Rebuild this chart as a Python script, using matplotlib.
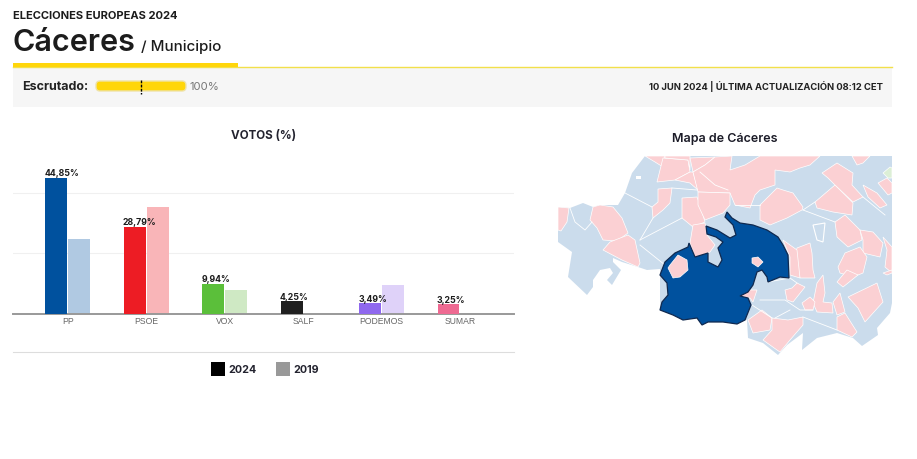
import numpy as np
import matplotlib.pyplot as plt
from matplotlib.patches import Polygon, Rectangle, FancyBboxPatch

plt.rcParams['font.family'] = ['Inter', 'DejaVu Sans']

W = 917
H = 460

# bar data
partidos = ['PP', 'PSOE', 'VOX', 'SALF', 'PODEMOS', 'SUMAR']
votos_2024 = [44.85, 28.79, 9.94, 4.25, 3.49, 3.25]
votos_2019 = [24.6, 35.2, 8.0, 0, 9.5, 0]
etiquetas = ['44,85%', '28,79%', '9,94%', '4,25%', '3,49%', '3,25%']
colores_2024 = ['#00519e', '#ed1c24', '#5bbf3a', '#1f1f1f', '#8f68ee', '#ee6a92']
colores_2019 = ['#b0c9e2', '#f9b5b8', '#cfe9c4', '#d0d0d0', '#dfd2f9', '#f9c9d8']

# map outlines in pixels
mapa_base = [(645,156),(632,173),(625,193),(618,205),(600,205),(593,207),(583,203),(570,208),(558,207),
             (558,242),(572,252),(568,277),(587,295),(593,287),(593,280),(600,270),(610,268),(613,273),
             (607,280),(612,285),(621,270),(613,262),(613,258),(622,262),(638,267),(647,270),(660,269),
             (660,310),(745,320),(747,320),(748,338),(763,343),(778,355),(787,345),(803,333),(802,350),
             (817,338),(837,333),(853,338),(862,346),(878,335),(877,328),(890,313),(892,303),(892,156)]

mapa_rosa = [
    [(558,207),(569,208),(567,222),(561,231),(558,230)],
    [(600,205),(613,207),(622,218),(628,233),(617,241),(603,240),(597,228),(590,220),(593,207)],
    [(628,235),(635,240),(640,263),(638,267),(622,260),(603,250),(610,242)],
    [(645,156),(665,156),(663,167),(655,162)],
    [(663,158),(688,160),(690,172),(675,180),(657,182),(660,170)],
    [(665,156),(690,156),(690,170),(688,160),(665,158)],
    [(675,180),(690,172),(693,172),(698,190),(690,183)],
    [(693,172),(690,158),(715,157),(705,165)],
    [(658,189),(672,188),(670,203),(663,210),(653,218),(652,207),(658,202)],
    [(682,198),(697,197),(700,205),(705,222),(693,227),(682,218)],
    [(698,192),(693,172),(705,165),(715,157),(732,156),(730,170),(745,165),(760,156),(820,156),(810,165),
     (800,168),(790,172),(775,170),(775,185),(760,190),(755,195),(750,208),(735,205),(730,193)],
    [(698,192),(730,193),(730,205),(723,213),(705,220),(698,205)],
    [(693,225),(705,223),(707,235),(715,245),(710,252),(703,255),(695,257),(690,243)],
    [(760,205),(777,188),(783,190),(793,193),(803,207),(802,210),(787,218),(770,225),(760,220)],
    [(815,202),(835,185),(853,203),(852,215),(833,212),(817,208)],
    [(822,173),(837,163),(853,173),(852,185),(863,197),(853,202),(835,185),(828,178)],
    [(852,156),(870,156),(863,163),(857,165)],
    [(863,185),(877,193),(887,205),(880,208),(868,197)],
    [(878,183),(887,178),(892,183),(892,193),(888,195)],
    [(835,222),(845,215),(860,230),(862,240),(848,247),(837,237)],
    [(860,230),(873,232),(883,243),(880,257),(863,253),(863,240)],
    [(883,237),(892,247),(892,273),(885,267),(887,250)],
    [(838,267),(845,253),(860,247),(867,257),(863,273),(853,277),(840,273)],
    [(797,248),(810,243),(812,253),(813,270),(815,278),(800,278),(795,257)],
    [(783,240),(797,250),(800,278),(790,275),(790,257)],
    [(848,297),(877,283),(883,302),(865,322),(858,308)],
    [(837,317),(845,313),(857,332),(852,337),(837,330)],
    [(833,302),(840,293),(845,312),(837,315)],
    [(813,303),(817,283),(823,275),(825,293),(823,302),(832,303),(833,313),(817,312)],
    [(802,303),(810,297),(815,302),(813,310),(805,310)],
    [(785,290),(792,288),(797,283),(805,287),(797,297),(793,302),(787,300)],
    [(837,282),(847,270),(858,275),(843,287)],
    [(883,273),(892,270),(892,273),(887,275)],
    [(748,320),(762,310),(772,318),(770,330),(753,333)],
    [(772,318),(788,320),(803,317),(803,325),(790,340),(780,352),(777,350),(763,340),(772,330)],
    [(740,296),(748,290),(757,290),(753,302),(750,298)],
]

mapa_verde = [(883,173),(890,167),(892,168),(892,178),(888,178)]
mapa_isla = [(813,225),(825,223),(823,242),(817,240)]
mapa_hueco = [(636,176),(641,176),(641,179),(636,179)]

mapa_lineas = [
    [(570,208),(575,222),(585,230),(592,222)],
    [(625,193),(652,207)],
    [(640,240),(653,218)],
    [(640,240),(682,218)],
    [(640,245),(665,265)],
    [(672,188),(697,190)],
    [(700,172),(715,185),(728,190)],
    [(735,205),(760,205)],
    [(803,210),(815,202)],
    [(803,210),(835,222)],
    [(863,197),(885,215)],
    [(768,282),(790,278),(797,283)],
    [(760,300),(785,300),(800,310),(813,310)],
    [(775,318),(790,310)],
    [(803,317),(837,330)],
    [(752,305),(772,318)],
]

caceres = [(727,212),(732,218),(740,223),(753,225),(767,230),(778,237),(783,245),(788,255),(789,278),
           (780,277),(768,282),(767,277),(762,270),(757,272),(753,285),(748,292),(740,296),(748,298),
           (751,305),(745,320),(737,324),(723,322),(708,322),(702,325),(697,318),(683,320),(673,315),
           (660,310),(662,302),(668,295),(667,283),(660,275),(665,262),(675,253),(688,247),(689,243),
           (695,257),(708,253),(708,262),(718,267),(722,260),(718,248),(723,242),(716,237),(707,234),
           (706,226),(717,230),(730,238),(736,235),(733,225),(725,217)]
caceres_rosa = [
    [(670,265),(678,255),(687,260),(688,270),(680,277),(673,278),(668,268)],
    [(752,258),(758,257),(763,262),(758,267),(752,263)],
]

fig = plt.figure(figsize=(W / 100, H / 100), dpi=100)

# overlay in pixel coordinates for the page furniture and the map
bg = fig.add_axes([0, 0, 1, 1])
bg.set_xlim(0, W)
bg.set_ylim(H - 1, -1)
bg.axis('off')

bg.add_patch(Rectangle((13, 67), 879, 40, color='#f6f6f6', lw=0))
bg.plot([13, 892], [66.5, 66.5], color='#f2e04a', lw=1, zorder=3)
bg.add_patch(Rectangle((13, 63), 225, 3.5, color='#ffd60a', lw=0, zorder=4))

bg.text(13, 15, 'ELECCIONES EUROPEAS 2024', fontsize=8, fontweight='bold', color='#1c1c1c', va='center')
bg.text(13, 50, 'Cáceres', fontsize=22, fontweight='semibold', color='#1c1c1c', va='baseline')
bg.text(141, 50, '/ Municipio', fontsize=10.9, fontweight='medium', color='#1c1c1c', va='baseline')

bg.text(22, 86, 'Escrutado:', fontsize=9, fontweight='bold', color='#222222', va='center')
bg.add_patch(FancyBboxPatch((98, 83), 86, 6, boxstyle='round,pad=2,rounding_size=4',
                            fc='#ffd60a', ec='#efe3a8', lw=1))
bg.plot([141, 141], [80, 94], color='black', lw=1, ls=(0, (2, 1)))
bg.text(190, 86, '100%', fontsize=8.2, color='#777777', va='center')
bg.text(883, 85.5, '10 JUN 2024 | ÚLTIMA ACTUALIZACIÓN 08:12 CET', fontsize=6.77, fontweight='bold',
        color='#222222', va='center', ha='right')

bg.text(264, 135, 'VOTOS (%)', fontsize=8.4, fontweight='bold', color='#23232f', va='center', ha='center')
bg.text(724.5, 138, 'Mapa de Cáceres', fontsize=9, fontweight='semibold', color='#1c1c28', va='center', ha='center')

bg.plot([13, 514], [351.5, 351.5], color='#dddddd', lw=0.8)
bg.add_patch(Rectangle((211, 362), 14, 14, color='black', lw=0))
bg.text(228, 369, '2024', fontsize=7.7, fontweight='bold', color='#23232f', va='center')
bg.add_patch(Rectangle((276, 362), 14, 14, color='#999999', lw=0))
bg.text(293, 369, '2019', fontsize=7.7, fontweight='bold', color='#23232f', va='center')

# map
bg.add_patch(Polygon(mapa_base, closed=True, fc='#cbdcec', ec='none', zorder=2))
for p in mapa_rosa:
    bg.add_patch(Polygon(p, closed=True, fc='#fbd0d3', ec='white', lw=0.5, zorder=3))
bg.add_patch(Polygon(mapa_verde, closed=True, fc='#dcefd6', ec='white', lw=0.5, zorder=3))
bg.add_patch(Polygon(mapa_isla, closed=True, fc='#cbdcec', ec='white', lw=0.8, zorder=3))
bg.add_patch(Polygon(mapa_hueco, closed=True, fc='white', ec='none', zorder=3))
for l in mapa_lineas:
    xs = [q[0] for q in l]
    ys = [q[1] for q in l]
    bg.plot(xs, ys, color='white', lw=0.6, zorder=3)
bg.add_patch(Polygon(caceres, closed=True, fc='#00519e', ec='#10294f', lw=0.9, zorder=4))
for p in caceres_rosa:
    bg.add_patch(Polygon(p, closed=True, fc='#fbd0d3', ec='white', lw=0.5, zorder=5))

# bar chart, baseline at y=314 px
px_izq, px_der, px_top, px_base = 13, 514, 161, 315
ax = fig.add_axes([px_izq / W, 1 - px_base / H, (px_der - px_izq) / W, (px_base - px_top) / H])
ax.patch.set_alpha(0)
ax.set_xlim(-0.698, 5.69)
ax.set_ylim(0, (px_base - px_top) / 3.03)

x = np.arange(len(partidos))
ancho = 0.28
ax.bar(x - 0.145, votos_2024, ancho, color=colores_2024, zorder=3)
ax.bar(x + 0.148, votos_2019, ancho, color=colores_2019, zorder=2)

for i in range(len(partidos)):
    ax.text(x[i] - 0.155 - ancho / 2, votos_2024[i] + 0.2, etiquetas[i], fontsize=6.3, fontweight='bold',
            color='#1c1c1c', ha='left', va='bottom', zorder=4)

ax.set_yticks([20, 40])
ax.set_yticklabels([])
ax.grid(axis='y', color='#f0f0f0', lw=0.8, zorder=0)
ax.set_xticks(x)
ax.set_xticklabels(partidos, fontsize=6.2, color='#666666', family=['Liberation Sans'])
ax.tick_params(length=0, pad=1.5)
for s in ['top', 'left', 'right']:
    ax.spines[s].set_visible(False)
ax.spines['bottom'].set_color('#999999')
ax.spines['bottom'].set_linewidth(1.4)

fig.savefig('out.png', dpi=100)
